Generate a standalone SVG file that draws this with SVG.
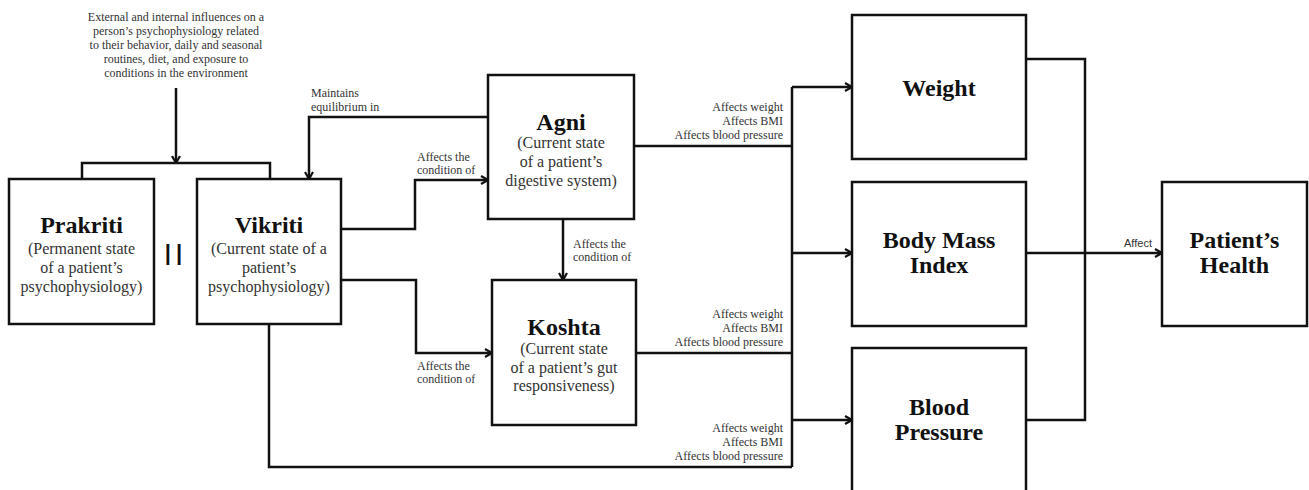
<svg xmlns="http://www.w3.org/2000/svg" width="1309" height="490" viewBox="0 0 1309 490">
<defs>
<marker id="arr" viewBox="0 0 10 10" refX="9" refY="5" markerWidth="10" markerHeight="10" markerUnits="userSpaceOnUse" orient="auto">
<path d="M2,1 L9,5 L2,9" fill="none" stroke="#111" stroke-width="2.2"/>
</marker>
<style>
.box{fill:#fff;stroke:#111;stroke-width:2.5}
.ln{fill:none;stroke:#111;stroke-width:2.5}
.ar{marker-end:url(#arr)}
.t{font-family:"Liberation Serif",serif;font-weight:bold;font-size:24px;fill:#111;text-anchor:middle}
.s{font-family:"Liberation Serif",serif;font-size:16px;fill:#333;text-anchor:middle}
.l{font-family:"Liberation Serif",serif;font-size:12px;fill:#333}
.r{text-anchor:end}
.c{text-anchor:middle}
.a{font-family:"Liberation Sans",sans-serif;font-size:11px;fill:#333;text-anchor:middle}
</style>
</defs>
<rect width="1309" height="490" fill="#fff"/>
<g id="connectors">
<path class="ln ar" d="M176,88 V163"/>
<path class="ln" d="M82,179 V163 H270 V179"/>
<path class="ln ar" d="M488,117 H309 V179"/>
<path class="ln ar" d="M341,229 H415 V180 H488"/>
<path class="ln ar" d="M341,280 H416 V353 H492"/>
<path class="ln ar" d="M563,219 V280"/>
<path class="ln" d="M634,146 H792"/>
<path class="ln" d="M636,353 H792"/>
<path class="ln" d="M269,324 V467 H792"/>
<path class="ln" d="M792,87 V467"/>
<path class="ln ar" d="M792,87 H852"/>
<path class="ln ar" d="M792,253 H852"/>
<path class="ln ar" d="M792,420 H852"/>
<path class="ln" d="M1026,59 H1085 V420 H1026"/>
<path class="ln ar" d="M1026,253 H1162"/>
<text class="l c" x="176" y="21"><tspan x="176">External and internal influences on a</tspan><tspan x="176" dy="14">person’s psychophysiology related</tspan><tspan x="176" dy="14">to their behavior, daily and seasonal</tspan><tspan x="176" dy="14">routines, diet, and exposure to</tspan><tspan x="176" dy="14">conditions in the environment</tspan></text>
<text class="l" x="311" y="97"><tspan x="311">Maintains</tspan><tspan x="311" dy="14">equilibrium in</tspan></text>
<text class="l" x="417" y="161"><tspan x="417">Affects the</tspan><tspan x="417" dy="13">condition of</tspan></text>
<text class="l" x="573" y="248"><tspan x="573">Affects the</tspan><tspan x="573" dy="13">condition of</tspan></text>
<text class="l" x="417" y="370"><tspan x="417">Affects the</tspan><tspan x="417" dy="13">condition of</tspan></text>
<text class="l r" x="783" y="111"><tspan x="783">Affects weight</tspan><tspan x="783" dy="14">Affects BMI</tspan><tspan x="783" dy="14">Affects blood pressure</tspan></text>
<text class="l r" x="783" y="318"><tspan x="783">Affects weight</tspan><tspan x="783" dy="14">Affects BMI</tspan><tspan x="783" dy="14">Affects blood pressure</tspan></text>
<text class="l r" x="783" y="432"><tspan x="783">Affects weight</tspan><tspan x="783" dy="14">Affects BMI</tspan><tspan x="783" dy="14">Affects blood pressure</tspan></text>
<text class="a" x="1138" y="247">Affect</text>
</g>
<g id="prakriti">
<rect class="box" x="9" y="179" width="145" height="145"/>
<text class="t" x="81.5" y="233">Prakriti</text>
<text class="s" x="81.5" y="254"><tspan x="81.5">(Permanent state</tspan><tspan x="81.5" dy="19">of a patient’s</tspan><tspan x="81.5" dy="19">psychophysiology)</tspan></text>
</g>
<g id="equals">
<text x="176" y="260" font-family="Liberation Sans, sans-serif" font-size="22" font-weight="bold" fill="#111" text-anchor="middle" letter-spacing="5">||</text>
</g>
<g id="vikriti">
<rect class="box" x="197" y="179" width="144" height="145"/>
<text class="t" x="269" y="233">Vikriti</text>
<text class="s" x="269" y="254"><tspan x="269">(Current state of a</tspan><tspan x="269" dy="19">patient’s</tspan><tspan x="269" dy="19">psychophysiology)</tspan></text>
</g>
<g id="agni">
<rect class="box" x="488" y="75" width="146" height="144"/>
<text class="t" x="561" y="130">Agni</text>
<text class="s" x="561" y="148"><tspan x="561">(Current state</tspan><tspan x="561" dy="19">of a patient’s</tspan><tspan x="561" dy="19">digestive system)</tspan></text>
</g>
<g id="koshta">
<rect class="box" x="492" y="280" width="144" height="145"/>
<text class="t" x="564" y="335">Koshta</text>
<text class="s" x="564" y="354"><tspan x="564">(Current state</tspan><tspan x="564" dy="18.5">of a patient’s gut</tspan><tspan x="564" dy="18.5">responsiveness)</tspan></text>
</g>
<g id="weight">
<rect class="box" x="852" y="15" width="174" height="144"/>
<text class="t" x="939" y="96">Weight</text>
</g>
<g id="bmi">
<rect class="box" x="852" y="182" width="174" height="144"/>
<text class="t" x="939" y="248"><tspan x="939">Body Mass</tspan><tspan x="939" dy="25">Index</tspan></text>
</g>
<g id="bp">
<rect class="box" x="852" y="348" width="174" height="160"/>
<text class="t" x="939" y="415"><tspan x="939">Blood</tspan><tspan x="939" dy="25">Pressure</tspan></text>
</g>
<g id="health">
<rect class="box" x="1162" y="182" width="145" height="144"/>
<text class="t" x="1234.5" y="248"><tspan x="1234.5">Patient’s</tspan><tspan x="1234.5" dy="25">Health</tspan></text>
</g>
</svg>
